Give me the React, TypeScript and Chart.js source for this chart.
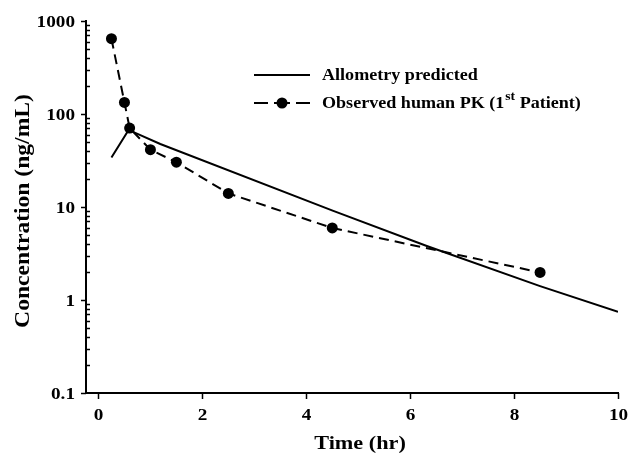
import React, { useEffect, useRef } from "react";
import { Chart, registerables } from "chart.js";

Chart.register(...registerables);

const observedTime = [0.25, 0.5, 0.6, 1, 1.5, 2.5, 4.5, 8.5];
const observedConc = [646, 133, 70.6, 41.3, 30.3, 14.0, 5.95, 1.98];
const predictedTime = [0.25, 0.58, 1.19, 4.52, 6.32, 8.5, 10];
const predictedConc = [34, 67.4, 47.6, 9.08, 3.81, 1.41, 0.745];
const xTicks = [0, 2, 4, 6, 8, 10];
const yTicks = [0.1, 1, 10, 100, 1000];
const xTickLabels = ["0", "2", "4", "6", "8", "10"];
const yTickLabels = ["0.1", "1", "10", "100", "1000"];
const seriesLabels = ["Allometry predicted", "Observed human PK (1", "st", " Patient)"];
const xTitle = "Time (hr)";
const yTitle = "Concentration (ng/mL)";

const FONT = "'Liberation Serif', 'Times New Roman', serif";

function stretchText(
  ctx: CanvasRenderingContext2D,
  text: string,
  x: number,
  y: number,
  size: number,
  sx: number,
  align: CanvasTextAlign,
  rotate = 0
) {
  ctx.save();
  ctx.translate(x, y);
  if (rotate) ctx.rotate(rotate);
  ctx.scale(sx, 1);
  ctx.font = `bold ${size}px ${FONT}`;
  ctx.textAlign = align;
  ctx.textBaseline = "alphabetic";
  ctx.fillStyle = "#000";
  ctx.fillText(text, 0, 0);
  ctx.restore();
}

function textWidth(ctx: CanvasRenderingContext2D, text: string, size: number, sx: number) {
  ctx.save();
  ctx.font = `bold ${size}px ${FONT}`;
  const w = ctx.measureText(text).width * sx;
  ctx.restore();
  return w;
}

const decorPlugin = {
  id: "decor",
  afterDraw(chart: any) {
    const ctx = chart.ctx as CanvasRenderingContext2D;
    const xs = chart.scales.x;
    const ys = chart.scales.y;
    const area = chart.chartArea;
    ctx.save();
    ctx.strokeStyle = "#000";
    ctx.lineWidth = 1.5;
    ctx.setLineDash([]);
    const seg = (x1: number, y1: number, x2: number, y2: number) => {
      ctx.beginPath();
      ctx.moveTo(x1, y1);
      ctx.lineTo(x2, y2);
      ctx.stroke();
    };
    // x ticks + labels
    xTicks.forEach((v, i) => {
      const px = Math.round(xs.getPixelForValue(v)) + 0.5;
      seg(px, area.bottom, px, area.bottom + 6);
      stretchText(ctx, xTickLabels[i], px, area.bottom + 26.5, 16, 1.2, "center");
    });
    // y ticks + labels
    yTicks.forEach((v, i) => {
      const py = Math.round(ys.getPixelForValue(v)) + 0.5;
      seg(area.left - 5, py, area.left, py);
      stretchText(ctx, yTickLabels[i], area.left - 11, py + 5.4, 16, 1.2, "right");
      if (i < yTicks.length - 1) {
        for (let m = 2; m <= 9; m++) {
          const pm = Math.round(ys.getPixelForValue(v * m)) + 0.5;
          seg(area.left, pm, area.left + 4, pm);
        }
      }
    });
    // axis titles
    stretchText(ctx, xTitle, (area.left + area.right) / 2 + 8, 448.5, 19, 1.17, "center");
    stretchText(ctx, yTitle, 29, (area.top + area.bottom) / 2 + 4, 20.5, 1.15, "center", -Math.PI / 2);

    // legend
    const lx1 = 254;
    const lx2 = 310;
    const r1 = 75;
    const r2 = 103;
    ctx.lineWidth = 2;
    seg(lx1, r1, lx2, r1);
    seg(lx1, r2, lx1 + 14, r2);
    seg(lx2 - 14, r2, lx2, r2);
    ctx.fillStyle = "#000";
    ctx.beginPath();
    ctx.arc((lx1 + lx2) / 2, r2, 5.5, 0, Math.PI * 2);
    ctx.fill();
    seg(lx1 + 20, r2, lx2 - 20, r2);

    const ls = 16;
    const lsx = 1.13;
    const tx0 = 322;
    stretchText(ctx, seriesLabels[0], tx0, r1 + 5, ls, lsx, "left");
    let tx = tx0;
    stretchText(ctx, seriesLabels[1], tx, r2 + 5, ls, lsx, "left");
    tx += textWidth(ctx, seriesLabels[1], ls, lsx) + 1;
    stretchText(ctx, seriesLabels[2], tx, r2 - 3, 12, lsx, "left");
    tx += textWidth(ctx, seriesLabels[2], 12, lsx);
    stretchText(ctx, seriesLabels[3], tx, r2 + 5, ls, lsx, "left");
    ctx.restore();
  },
};

export default function App() {
  const ref = useRef<HTMLCanvasElement | null>(null);
  useEffect(() => {
    if (!ref.current) return;
    const chart = new Chart(ref.current, {
      type: "scatter",
      data: {
        datasets: [
          {
            label: "Allometry predicted",
            data: predictedTime.map((t, i) => ({ x: t, y: predictedConc[i] })),
            showLine: true,
            borderColor: "#000",
            borderWidth: 2,
            pointRadius: 0,
            tension: 0,
          },
          {
            label: "Observed human PK (1st Patient)",
            data: observedTime.map((t, i) => ({ x: t, y: observedConc[i] })),
            showLine: true,
            borderColor: "#000",
            borderWidth: 2,
            borderDash: [10, 6],
            pointRadius: 5.5,
            pointBackgroundColor: "#000",
            pointBorderColor: "#000",
            pointBorderWidth: 0,
            tension: 0,
          },
        ],
      },
      options: {
        animation: false,
        responsive: false,
        devicePixelRatio: 1,
        layout: { padding: { top: 21, right: 12, left: 0, bottom: 0 } },
        plugins: { legend: { display: false }, tooltip: { enabled: false } },
        scales: {
          x: {
            type: "linear",
            min: -0.24,
            max: 10,
            afterFit: (s: any) => {
              s.height = 60;
            },
            afterBuildTicks: (s: any) => {
              s.ticks = xTicks.map((value) => ({ value }));
            },
            grid: { display: false, drawTicks: false },
            border: { display: true, color: "#000", width: 2 },
            ticks: { display: false },
            title: { display: false },
          },
          y: {
            type: "logarithmic",
            min: 0.1,
            max: 1000,
            afterFit: (s: any) => {
              s.width = 86;
            },
            afterBuildTicks: (s: any) => {
              s.ticks = yTicks.map((value) => ({ value }));
            },
            grid: { display: false, drawTicks: false },
            border: { display: true, color: "#000", width: 2 },
            ticks: { display: false },
            title: { display: false },
          },
        },
      },
      plugins: [decorPlugin],
    });
    return () => chart.destroy();
  }, []);
  return (
    <div style={{ position: "absolute", left: 0, top: 0, width: 630, height: 453, background: "#fff" }}>
      <canvas ref={ref} width={630} height={453} />
    </div>
  );
}
